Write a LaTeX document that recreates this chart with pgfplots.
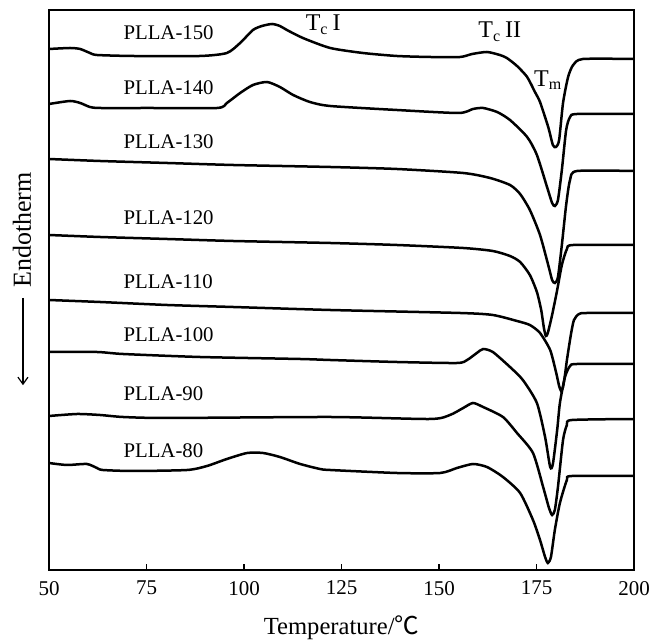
\documentclass[border=0pt]{standalone}
\usepackage{fontspec}
\setmainfont{Liberation Serif}
\newfontfamily\cjk{Noto Sans CJK SC}
\usepackage{pgfplots}
\pgfplotsset{compat=1.18}
\usetikzlibrary{arrows.meta}
\begin{document}
\begin{tikzpicture}
\path[use as bounding box] (-24.5pt,-35.5pt) rectangle (302pt,285pt);
\begin{axis}[
  at={(0,0)}, anchor=south west,
  scale only axis, width=292.5pt, height=280pt,
  xmin=50, xmax=200, ymin=0, ymax=560,
  xtick={50,75,...,200}, ytick=\empty,
  tick pos=bottom, tick align=inside,
  major tick length=3pt,
  axis line style={line width=0.9pt},
  every tick/.style={line width=0.8pt, black},
  clip=false,
  /pgf/number format/assume math mode=true,
  ticklabel style={font=\fontsize{10.5}{12}\selectfont},
  xticklabel style={yshift=-2pt},
  xlabel={Temperature/{\cjk ℃}},
  xlabel style={at={(axis description cs:0.5,0)}, anchor=center, yshift=-29pt, font=\fontsize{12.3}{14}\selectfont},
  ylabel={Endotherm},
  ylabel style={at={(axis description cs:-0.046,0.607)}, anchor=center, font=\fontsize{13}{15}\selectfont},
  curve/.style={black, line width=1.25pt, smooth, tension=0.4, mark=none},
]
% PLLA-150
\addplot[curve] coordinates {(50.0,521) (55.4,522) (58.0,521) (60.5,517) (62.3,515) (71.5,514) (88.7,514) (95.6,517) (99.0,527) (102.3,540) (104.6,544) (107.2,546) (109.2,544) (111.0,540) (115.1,532) (122.1,522) (130.5,517) (139.2,514) (147.7,513) (155.4,513) (158.5,516) (162.3,518) (165.6,515) (167.4,512) (170.0,504) (172.6,493) (174.6,478) (175.9,468) (178.0,443) (179.2,425) (180.0,423) (180.8,430) (181.8,467) (183.1,493) (184.4,505) (186.9,511) (200.0,511)};
% PLLA-140
\addplot[curve] coordinates {(50.0,466) (55.4,469) (58.0,467) (60.5,463) (63.1,462) (75.9,462) (93.1,462) (95.6,467) (99.0,477) (102.3,485) (105.9,488) (109.2,483) (112.6,475) (116.9,468) (122.1,464) (139.2,460) (155.0,457) (158.7,461) (161.3,462) (164.9,458) (168.2,450) (172.6,433) (175.1,415) (177.7,383) (179.0,367) (179.7,364) (180.5,370) (181.5,400) (182.6,440) (183.6,453) (185.4,456) (200.0,456)};
% PLLA-130
\addplot[curve] coordinates {(50.0,411) (63.1,409) (80.3,407) (97.2,405) (122.1,403) (139.2,401) (156.2,397) (163.1,392) (168.2,385) (170.8,376) (173.3,360) (175.9,335) (178.0,305) (179.0,290) (179.7,287) (180.5,293) (181.5,325) (182.6,365) (183.6,390) (185.4,399) (200.0,399)};
% PLLA-120
\addplot[curve] coordinates {(50.0,335) (63.1,333) (80.3,331) (97.2,329) (122.1,327) (139.2,325) (156.2,322) (163.8,319) (168.2,314) (170.8,308) (173.3,295) (175.1,278) (176.2,260) (176.9,242) (177.4,234) (177.9,237) (179.0,255) (180.3,280) (181.5,305) (182.8,321) (184.4,325) (200.0,325)};
% PLLA-110
\addplot[curve] coordinates {(50.0,270) (63.1,268) (80.3,265) (97.2,263) (122.1,260) (155.4,257) (163.8,255) (170.0,249) (173.3,245) (175.9,237) (178.5,220) (180.0,198) (180.8,184) (181.3,179) (181.8,183) (182.3,195) (182.8,210) (183.8,235) (184.6,250) (185.9,256) (187.9,257) (200.0,257)};
% PLLA-100
\addplot[curve] coordinates {(50.0,218) (62.3,218) (69.0,216) (88.7,213) (114.4,211) (122.1,210) (139.2,208) (154.6,207) (157.2,210) (159.7,217) (161.3,221) (163.8,218) (168.2,203) (171.5,190) (175.1,167) (177.2,133) (178.5,103) (179.2,106) (180.3,140) (181.0,167) (182.3,193) (183.6,204) (185.4,206) (200.0,206)};
% PLLA-90
\addplot[curve] coordinates {(50.0,154) (57.2,156) (63.1,155) (69.0,153) (80.3,152) (122.1,153) (147.7,151) (152.8,155) (156.2,162) (158.7,167) (161.3,163) (166.4,153) (170.0,137) (174.1,117) (176.7,83) (178.2,62) (179.0,55) (179.7,60) (180.5,83) (181.8,130) (182.8,145) (184.1,150) (200.0,151)};
% PLLA-80
\addplot[curve] coordinates {(50.0,107) (54.6,105) (59.7,106) (62.3,102) (63.8,100) (71.5,99) (85.4,100) (90.5,104) (95.6,111) (100.8,117) (104.9,117) (109.2,113) (114.4,106) (119.5,101) (122.1,100) (139.2,97) (150.3,97) (154.6,102) (158.7,106) (162.3,103) (166.4,93) (170.8,77) (174.1,50) (175.9,30) (177.2,13) (177.9,7) (178.7,13) (179.7,40) (181.0,67) (182.8,90) (184.1,94) (200.0,94)};

\begin{scope}[every node/.style={anchor=west, inner sep=0pt, font=\fontsize{10.4}{12}\selectfont}]
\node at (axis cs:69,537) {PLLA-150};
\node at (axis cs:69,482) {PLLA-140};
\node at (axis cs:69,428) {PLLA-130};
\node at (axis cs:69,352) {PLLA-120};
\node at (axis cs:69,288) {PLLA-110};
\node at (axis cs:69,235) {PLLA-100};
\node at (axis cs:69,176) {PLLA-90};
\node at (axis cs:69,119) {PLLA-80};
\end{scope}
\begin{scope}[every node/.style={inner sep=0pt, font=\fontsize{12}{14}\selectfont}]
\node at (axis cs:120.3,545) {T\textsubscript{c}\,I};
\node at (axis cs:165.6,538) {T\textsubscript{c}\,II};
\node at (axis cs:178.0,490) {T\textsubscript{m}};
\end{scope}
\draw[-{Straight Barb[length=3.5pt,width=5pt]}, line width=0.6pt] (axis description cs:-0.0445,0.486) -- (axis description cs:-0.0445,0.330);
\end{axis}
\end{tikzpicture}
\end{document}
